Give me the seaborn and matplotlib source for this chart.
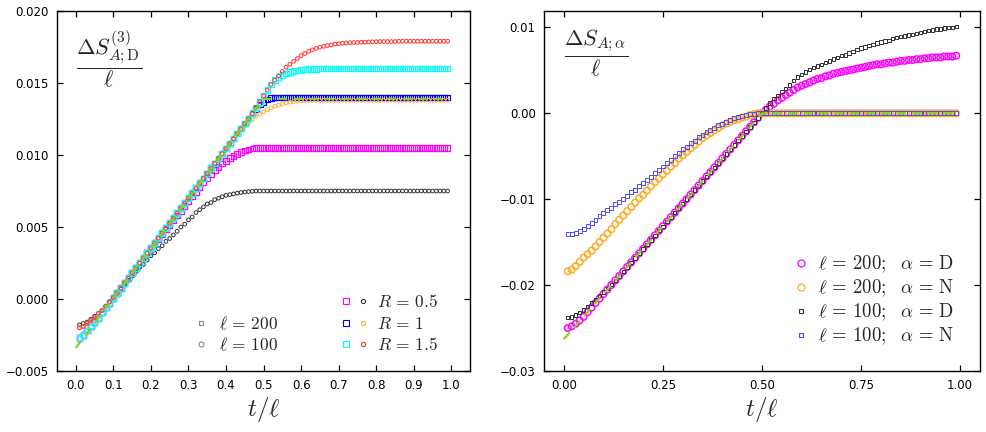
import numpy as np
import seaborn as sns
import matplotlib.pyplot as plt
from matplotlib.lines import Line2D
from matplotlib.legend_handler import HandlerTuple

# time grid t/l (sampled every 0.01)
t = np.round(np.arange(1, 100) / 100, 2)

# ---- left panel: Delta S^(3)_{A;D} / l ----
l200_R05 = [
    -0.0027, -0.0025, -0.0022, -0.0019, -0.0016, -0.0013, -0.00095, -0.0006, -0.00027, 0.00008,
    0.00043, 0.00077, 0.00112, 0.00146, 0.00181, 0.00216, 0.0025, 0.00285, 0.00319, 0.00354,
    0.00385, 0.00418, 0.0045, 0.00483, 0.00515, 0.00548, 0.0058, 0.00613, 0.00645, 0.00678,
    0.00712, 0.00745, 0.00778, 0.0081, 0.0084, 0.00868, 0.00894, 0.00918, 0.0094, 0.0096,
    0.00978, 0.00994, 0.01008, 0.0102, 0.0103, 0.01038, 0.01044, 0.01048, 0.0105, 0.0105,
    0.0105, 0.0105, 0.0105, 0.0105, 0.0105, 0.0105, 0.0105, 0.0105, 0.0105, 0.0105,
    0.0105, 0.0105, 0.0105, 0.0105, 0.0105, 0.0105, 0.0105, 0.0105, 0.0105, 0.0105,
    0.0105, 0.0105, 0.0105, 0.0105, 0.0105, 0.0105, 0.0105, 0.0105, 0.0105, 0.0105,
    0.0105, 0.0105, 0.0105, 0.0105, 0.0105, 0.0105, 0.0105, 0.0105, 0.0105, 0.0105,
    0.0105, 0.0105, 0.0105, 0.0105, 0.0105, 0.0105, 0.0105, 0.0105, 0.0105,
]
l200_R1 = [
    -0.0027, -0.0025, -0.0022, -0.0019, -0.0016, -0.0013, -0.00095, -0.0006, -0.00027, 0.00008,
    0.00043, 0.00077, 0.00112, 0.00146, 0.00181, 0.00216, 0.0025, 0.00285, 0.00319, 0.00354,
    0.00389, 0.00423, 0.00458, 0.00492, 0.00527, 0.00562, 0.00596, 0.00631, 0.00665, 0.007,
    0.00735, 0.00769, 0.00804, 0.00838, 0.00873, 0.00908, 0.00942, 0.00977, 0.01011, 0.01046,
    0.01081, 0.01115, 0.0115, 0.01184, 0.01219, 0.01253, 0.01287, 0.0132, 0.0135, 0.0137,
    0.01385, 0.01395, 0.014, 0.014, 0.014, 0.014, 0.014, 0.014, 0.014, 0.014,
    0.014, 0.014, 0.014, 0.014, 0.014, 0.014, 0.014, 0.014, 0.014, 0.014,
    0.014, 0.014, 0.014, 0.014, 0.014, 0.014, 0.014, 0.014, 0.014, 0.014,
    0.014, 0.014, 0.014, 0.014, 0.014, 0.014, 0.014, 0.014, 0.014, 0.014,
    0.014, 0.014, 0.014, 0.014, 0.014, 0.014, 0.014, 0.014, 0.014,
]
l200_R15 = [
    -0.0027, -0.0025, -0.0022, -0.0019, -0.0016, -0.0013, -0.00095, -0.0006, -0.00027, 0.00008,
    0.00043, 0.00077, 0.00112, 0.00146, 0.00181, 0.00216, 0.0025, 0.00285, 0.00319, 0.00354,
    0.00389, 0.00423, 0.00458, 0.00492, 0.00527, 0.00562, 0.00596, 0.00631, 0.00665, 0.007,
    0.00735, 0.00769, 0.00804, 0.00838, 0.00873, 0.00908, 0.00942, 0.00977, 0.01011, 0.01046,
    0.01081, 0.01115, 0.0115, 0.01184, 0.01219, 0.01255, 0.0129, 0.0133, 0.0137, 0.0141,
    0.0145, 0.0149, 0.0152, 0.0154, 0.01555, 0.01567, 0.01576, 0.01583, 0.01588, 0.01592,
    0.01595, 0.01597, 0.01598, 0.01599, 0.016, 0.016, 0.016, 0.016, 0.016, 0.016,
    0.016, 0.016, 0.016, 0.016, 0.016, 0.016, 0.016, 0.016, 0.016, 0.016,
    0.016, 0.016, 0.016, 0.016, 0.016, 0.016, 0.016, 0.016, 0.016, 0.016,
    0.016, 0.016, 0.016, 0.016, 0.016, 0.016, 0.016, 0.016, 0.016,
]
l100_R05 = [
    -0.0018, -0.0017, -0.0016, -0.0014, -0.0012, -0.001, -0.0008, -0.0005, -0.0002, 0.0001,
    0.0004, 0.0007, 0.001, 0.0013, 0.0016, 0.0019, 0.0022, 0.0024, 0.0027, 0.003,
    0.0032, 0.0035, 0.0037, 0.004, 0.0042, 0.00445, 0.0047, 0.005, 0.0052, 0.0055,
    0.0057, 0.006, 0.0062, 0.0064, 0.0066, 0.0067, 0.0069, 0.007, 0.0071, 0.0072,
    0.00725, 0.0073, 0.00735, 0.0074, 0.00743, 0.00746, 0.00748, 0.0075, 0.0075, 0.0075,
    0.0075, 0.0075, 0.0075, 0.0075, 0.0075, 0.0075, 0.0075, 0.0075, 0.0075, 0.0075,
    0.0075, 0.0075, 0.0075, 0.0075, 0.0075, 0.0075, 0.0075, 0.0075, 0.0075, 0.0075,
    0.0075, 0.0075, 0.0075, 0.0075, 0.0075, 0.0075, 0.0075, 0.0075, 0.0075, 0.0075,
    0.0075, 0.0075, 0.0075, 0.0075, 0.0075, 0.0075, 0.0075, 0.0075, 0.0075, 0.0075,
    0.0075, 0.0075, 0.0075, 0.0075, 0.0075, 0.0075, 0.0075, 0.0075, 0.0075,
]
l100_R1 = [
    -0.002, -0.0019, -0.0017, -0.0015, -0.0013, -0.001, -0.0008, -0.0005, -0.0002, 0.0001,
    0.00042, 0.00076, 0.00111, 0.00145, 0.0018, 0.00215, 0.00249, 0.00284, 0.00318, 0.00353,
    0.00388, 0.00422, 0.00457, 0.00491, 0.00526, 0.00561, 0.00595, 0.0063, 0.00664, 0.00699,
    0.00734, 0.00768, 0.00803, 0.00837, 0.00872, 0.00907, 0.00941, 0.00976, 0.0101, 0.01044,
    0.01078, 0.0111, 0.01142, 0.01172, 0.012, 0.01225, 0.01248, 0.01268, 0.01285, 0.013,
    0.01315, 0.01328, 0.01338, 0.01347, 0.01355, 0.01362, 0.01367, 0.01371, 0.01374, 0.01377,
    0.01379, 0.0138, 0.0138, 0.0138, 0.0138, 0.0138, 0.0138, 0.0138, 0.0138, 0.0138,
    0.0138, 0.0138, 0.0138, 0.0138, 0.0138, 0.0138, 0.0138, 0.0138, 0.0138, 0.0138,
    0.0138, 0.0138, 0.0138, 0.0138, 0.0138, 0.0138, 0.0138, 0.0138, 0.0138, 0.0138,
    0.0138, 0.0138, 0.0138, 0.0138, 0.0138, 0.0138, 0.0138, 0.0138, 0.0138,
]
l100_R15 = [
    -0.002, -0.0019, -0.0017, -0.0015, -0.0013, -0.001, -0.0008, -0.0005, -0.0002, 0.0001,
    0.00042, 0.00076, 0.00111, 0.00145, 0.0018, 0.00215, 0.00249, 0.00284, 0.00318, 0.00353,
    0.00388, 0.00422, 0.00457, 0.00491, 0.00526, 0.00561, 0.00595, 0.0063, 0.00664, 0.00699,
    0.00734, 0.00768, 0.00803, 0.00837, 0.00872, 0.00907, 0.00941, 0.00976, 0.0101, 0.01044,
    0.01079, 0.01113, 0.01148, 0.01182, 0.01217, 0.01252, 0.01287, 0.0133, 0.0137, 0.0141,
    0.0145, 0.0149, 0.0152, 0.0155, 0.0158, 0.0161, 0.0163, 0.0165, 0.0167, 0.0169,
    0.01705, 0.0172, 0.0173, 0.0174, 0.01748, 0.01755, 0.0176, 0.01765, 0.0177, 0.01773,
    0.01776, 0.01778, 0.0178, 0.01781, 0.01782, 0.01783, 0.01784, 0.01785, 0.01786, 0.01787,
    0.01788, 0.01788, 0.01788, 0.01788, 0.01788, 0.0179, 0.0179, 0.0179, 0.0179, 0.0179,
    0.0179, 0.0179, 0.0179, 0.0179, 0.0179, 0.0179, 0.0179, 0.0179, 0.0179,
]
# prediction (green dashed) corners
pred_left_t = [0.0, 0.5, 0.99]
pred_left_v = [-0.0034, 0.0139, 0.0139]

# ---- right panel: Delta S_{A;alpha} / l ----
l200_D = [
    -0.025, -0.0248, -0.0245, -0.0241, -0.0237, -0.02314, -0.02262, -0.02209, -0.02157, -0.02104,
    -0.02051, -0.01999, -0.01946, -0.01894, -0.01841, -0.01788, -0.01736, -0.01683, -0.01631, -0.01578,
    -0.01525, -0.01473, -0.0142, -0.01368, -0.01315, -0.01262, -0.0121, -0.01157, -0.01105, -0.01052,
    -0.00999, -0.00947, -0.00894, -0.00842, -0.00789, -0.00736, -0.00684, -0.00631, -0.00579, -0.00526,
    -0.00473, -0.00421, -0.00368, -0.00316, -0.00263, -0.0021, -0.00158, -0.00105, -0.00053, 0.0,
    0.0004, 0.0008, 0.0011, 0.0015, 0.0018, 0.0021, 0.0024, 0.0027, 0.003, 0.0032,
    0.0034, 0.0036, 0.0038, 0.004, 0.0041, 0.0043, 0.0044, 0.0046, 0.0047, 0.0048,
    0.0049, 0.005, 0.0051, 0.0052, 0.0053, 0.0054, 0.0055, 0.0056, 0.0057, 0.0057,
    0.0058, 0.0059, 0.0059, 0.006, 0.0061, 0.0061, 0.0062, 0.0062, 0.0063, 0.0063,
    0.0064, 0.0064, 0.0065, 0.0065, 0.0065, 0.0066, 0.0066, 0.0066, 0.0067,
]
l200_N = [
    -0.0184, -0.0182, -0.0178, -0.0173, -0.0168, -0.0164, -0.016, -0.0155, -0.015, -0.0145,
    -0.014, -0.0135, -0.0129, -0.0124, -0.0119, -0.0114, -0.0109, -0.0104, -0.0099, -0.0095,
    -0.009, -0.0085, -0.008, -0.0076, -0.0071, -0.0067, -0.0062, -0.0058, -0.0053, -0.0049,
    -0.0045, -0.0041, -0.0037, -0.0033, -0.0029, -0.0026, -0.0023, -0.002, -0.0017, -0.0014,
    -0.0012, -0.001, -0.0008, -0.0007, -0.0005, -0.0004, -0.0002, -0.0001, 0.0, 0.0,
    0.0, 0.0, 0.0, 0.0, 0.0, 0.0, 0.0, 0.0, 0.0, 0.0,
    0.0, 0.0, 0.0, 0.0, 0.0, 0.0, 0.0, 0.0, 0.0, 0.0,
    0.0, 0.0, 0.0, 0.0, 0.0, 0.0, 0.0, 0.0, 0.0, 0.0,
    0.0, 0.0, 0.0, 0.0, 0.0, 0.0, 0.0, 0.0, 0.0, 0.0,
    0.0, 0.0, 0.0, 0.0, 0.0, 0.0, 0.0, 0.0, 0.0,
]
l100_D = [
    -0.0238, -0.0237, -0.0235, -0.0232, -0.0229, -0.0225, -0.0221, -0.0217, -0.0212, -0.0208,
    -0.0204, -0.0199, -0.01946, -0.01894, -0.01841, -0.01788, -0.01736, -0.01683, -0.01631, -0.01578,
    -0.01525, -0.01473, -0.0142, -0.01368, -0.01315, -0.01262, -0.0121, -0.01157, -0.01105, -0.01052,
    -0.00999, -0.00947, -0.00894, -0.00842, -0.00789, -0.00736, -0.00684, -0.00631, -0.00579, -0.00526,
    -0.00473, -0.00421, -0.00368, -0.00316, -0.00263, -0.0021, -0.00158, -0.00105, -0.00053, 0.0,
    0.0006, 0.0012, 0.0017, 0.0021, 0.0025, 0.0029, 0.0033, 0.0038, 0.0042, 0.0045,
    0.0048, 0.0051, 0.0053, 0.0055, 0.0057, 0.0059, 0.0061, 0.0063, 0.0065, 0.0067,
    0.0068, 0.007, 0.0072, 0.0074, 0.0076, 0.0077, 0.0079, 0.008, 0.0082, 0.0083,
    0.0084, 0.0085, 0.0087, 0.0088, 0.0089, 0.009, 0.0091, 0.0092, 0.0093, 0.0094,
    0.0095, 0.0096, 0.0097, 0.0098, 0.0098, 0.0099, 0.01, 0.01, 0.0101,
]
l100_N = [
    -0.014, -0.014, -0.0139, -0.0137, -0.0135, -0.0131, -0.0128, -0.0124, -0.012, -0.0116,
    -0.0113, -0.011, -0.0106, -0.0103, -0.01, -0.0096, -0.0092, -0.0089, -0.0085, -0.0081,
    -0.0078, -0.0074, -0.007, -0.0066, -0.0062, -0.0058, -0.0054, -0.005, -0.0046, -0.0042,
    -0.0039, -0.0035, -0.0032, -0.0028, -0.0025, -0.0022, -0.0019, -0.0017, -0.0014, -0.0012,
    -0.001, -0.0008, -0.0006, -0.0004, -0.0003, -0.0002, -0.0001, -0.00005, 0.0, 0.0,
    0.0, 0.0, 0.0, 0.0, 0.0, 0.0, 0.0, 0.0, 0.0, 0.0,
    0.0, 0.0, 0.0, 0.0, 0.0, 0.0, 0.0, 0.0, 0.0, 0.0,
    0.0, 0.0, 0.0, 0.0, 0.0, 0.0, 0.0, 0.0, 0.0, 0.0,
    0.0, 0.0, 0.0, 0.0, 0.0, 0.0, 0.0, 0.0, 0.0, 0.0,
    0.0, 0.0, 0.0, 0.0, 0.0, 0.0, 0.0, 0.0, 0.0,
]
pred_right_t = [0.0, 0.5, 0.99]
pred_right_v = [-0.0263, 0.0, 0.0]

sns.set_theme(style="ticks")
plt.rcParams.update({
    "font.family": ["DejaVu Sans"],
    "mathtext.fontset": "cm",
    "axes.edgecolor": "black",
    "axes.linewidth": 1.0,
})

GREEN = "#84d11e"


def dots(ax, y, marker, size, color, lw=0.7):
    sns.scatterplot(x=t, y=y, ax=ax, marker=marker, s=size, facecolors="none",
                    edgecolor=color, linewidth=lw, legend=False)


def style(ax):
    ax.tick_params(direction="in", top=True, right=True, length=4, width=0.9,
                   labelsize=8.5, colors="black", pad=6)
    ax.set_xlabel(r"$t/\ell$", fontsize=18, labelpad=2)
    ax.set_ylabel("")


fig = plt.figure(figsize=(9.86, 4.32), dpi=100)
ax1 = fig.add_axes([0.0578, 0.1412, 0.419, 0.8333])
ax2 = fig.add_axes([0.5517, 0.1412, 0.4422, 0.8333])

# left panel
dots(ax1, l200_R05, "s", 16, "#ff00ff", lw=0.9)
dots(ax1, l100_R05, "o", 7, "#333333")
dots(ax1, l200_R1, "s", 16, "#0000ff", lw=0.9)
dots(ax1, l100_R1, "o", 7, "#ffb030")
dots(ax1, l200_R15, "s", 16, "#00ffff", lw=0.9)
dots(ax1, l100_R15, "o", 7, "#ff3030")
sns.lineplot(x=pred_left_t, y=pred_left_v, ax=ax1, color=GREEN, lw=1.6,
             linestyle=(0, (4, 3)))
ax1.set_xlim(-0.05, 1.05)
ax1.set_ylim(-0.005, 0.020)
ax1.set_xticks(np.round(np.arange(0, 11) / 10, 1))
ax1.set_xticklabels([f"{v:.1f}" for v in np.arange(0, 11) / 10])
ax1.set_yticks([-0.005, 0.0, 0.005, 0.010, 0.015, 0.020])
ax1.set_yticklabels(["\u22120.005", "0.000", "0.005", "0.010", "0.015", "0.020"])
style(ax1)
ax1.text(0.125, 0.865, r"$\dfrac{\Delta S^{(3)}_{A;\mathrm{D}}}{\ell}$", transform=ax1.transAxes,
         ha="center", va="center", fontsize=16)

gray = "#888888"
h200 = Line2D([], [], ls="none", marker="s", ms=3.5, mfc="none", mec=gray, mew=0.8)
h100 = Line2D([], [], ls="none", marker="o", ms=3.5, mfc="none", mec=gray, mew=0.8)
leg1 = ax1.legend([h200, h100], [r"$\ell \,=\, 200$", r"$\ell \,=\, 100$"], loc="lower left",
                  bbox_to_anchor=(0.31, 0.027), frameon=False, fontsize=12.5,
                  handlelength=1.0, handletextpad=0.55, labelspacing=0.2, borderaxespad=0)
ax1.add_artist(leg1)


def pair(c_sq, c_ci):
    return (Line2D([], [], ls="none", marker="s", ms=4, mfc="none", mec=c_sq, mew=0.8),
            Line2D([], [], ls="none", marker="o", ms=3, mfc="none", mec=c_ci, mew=0.8))


ax1.legend([pair("#ff00ff", "#333333"), pair("#0000ff", "#ffb030"), pair("#00ffff", "#ff3030")],
           [r"$R \,=\, 0.5$", r"$R \,=\, 1$", r"$R \,=\, 1.5$"],
           handler_map={tuple: HandlerTuple(ndivide=None, pad=0.3)},
           loc="lower left", bbox_to_anchor=(0.67, 0.027), frameon=False, fontsize=12.5,
           handlelength=1.6, handletextpad=0.5, labelspacing=0.2, borderaxespad=0)

# right panel
dots(ax2, l200_D, "o", 22, "#ff00ff", lw=1.1)
dots(ax2, l200_N, "o", 22, "#ffaa22", lw=1.1)
dots(ax2, l100_D, "s", 6, "#333333")
dots(ax2, l100_N, "s", 8, "#4c4cff")
sns.lineplot(x=pred_right_t, y=pred_right_v, ax=ax2, color=GREEN, lw=1.6,
             linestyle=(0, (4, 3)))
ax2.set_xlim(-0.05, 1.05)
ax2.set_ylim(-0.03, 0.0119)
ax2.set_xticks([0.0, 0.25, 0.5, 0.75, 1.0])
ax2.set_xticklabels(["0.00", "0.25", "0.50", "0.75", "1.00"])
ax2.set_yticks([-0.03, -0.02, -0.01, 0.0, 0.01])
ax2.set_yticklabels(["\u22120.03", "\u22120.02", "\u22120.01", "0.00", "0.01"])
style(ax2)
ax2.text(0.12, 0.885, r"$\dfrac{\Delta S_{A;\alpha}}{\ell}$", transform=ax2.transAxes,
         ha="center", va="center", fontsize=16)

hands = [
    Line2D([], [], ls="none", marker="o", ms=5, mfc="none", mec="#ff00ff", mew=0.9),
    Line2D([], [], ls="none", marker="o", ms=5, mfc="none", mec="#ffaa22", mew=0.9),
    Line2D([], [], ls="none", marker="s", ms=3, mfc="none", mec="#333333", mew=0.8),
    Line2D([], [], ls="none", marker="s", ms=3, mfc="none", mec="#4c4cff", mew=0.8),
]
labels = [r"$\ell \,=\, 200;\ \ \alpha \,=\, \mathrm{D}$", r"$\ell \,=\, 200;\ \ \alpha \,=\, \mathrm{N}$",
          r"$\ell \,=\, 100;\ \ \alpha \,=\, \mathrm{D}$", r"$\ell \,=\, 100;\ \ \alpha \,=\, \mathrm{N}$"]
ax2.legend(hands, labels, loc="lower left", bbox_to_anchor=(0.55, 0.045), frameon=False,
           fontsize=13.5, handlelength=1.0, handletextpad=0.45, labelspacing=0.12, borderaxespad=0)

fig.savefig("out.png", dpi=100)
